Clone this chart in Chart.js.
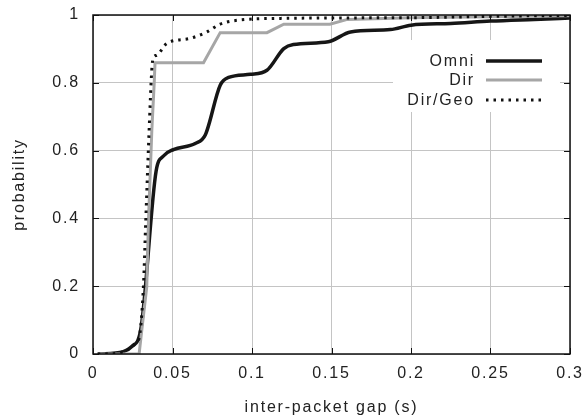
<!DOCTYPE html>
<html lang="en">

<head>
    <meta charset="UTF-8">
    <title>Inter-packet gap CDF</title>
    <script src="https://cdn.jsdelivr.net/npm/chart.js"></script>
    <style>
        body { margin: 0; background: #fff; }
        #box { width: 585px; height: 420px; }
    </style>
</head>

<body>
    <div id="box">
        <canvas id="cdf" width="585" height="420"></canvas>
    </div>
</body>

<script>
    // tick labels
    const xTickLabels = ['0', '0.05', '0.1', '0.15', '0.2', '0.25', '0.3'];
    const yTickLabels = ['0', '0.2', '0.4', '0.6', '0.8', '1'];

    // Omni
    const omniGap = [0.003, 0.019, 0.0244, 0.030, 0.0397, 0.0443, 0.0506, 0.0643, 0.0706, 0.080, 0.0853, 0.099, 0.1094, 0.12, 0.126, 0.148, 0.162, 0.187, 0.2, 0.225, 0.25, 0.2775, 0.3];
    const omniProb = [0, 0.007, 0.022, 0.071, 0.540, 0.584, 0.603, 0.621, 0.646, 0.793, 0.816, 0.825, 0.837, 0.901, 0.913, 0.921, 0.950, 0.957, 0.970, 0.975, 0.982, 0.987, 0.991];

    // Dir
    const dirGap = [0.003, 0.029, 0.0307, 0.0338, 0.0349, 0.037, 0.0385, 0.039, 0.0695, 0.080, 0.1094, 0.12, 0.149, 0.16, 0.2, 0.25, 0.3];
    const dirProb = [0, 0, 0.071, 0.198, 0.395, 0.66, 0.80, 0.859, 0.859, 0.948, 0.948, 0.973, 0.973, 0.987, 0.992, 0.995, 0.998];

    // Dir/Geo
    const geoGap = [0.003, 0.015, 0.0212, 0.0244, 0.0276, 0.0292, 0.0317, 0.0332, 0.0353, 0.037, 0.038, 0.040, 0.0464, 0.061, 0.0716, 0.080, 0.0884, 0.118, 0.2, 0.25, 0.3];
    const geoProb = [0, 0.002, 0.012, 0.022, 0.036, 0.051, 0.198, 0.395, 0.66, 0.84, 0.875, 0.881, 0.916, 0.931, 0.95, 0.973, 0.983, 0.99, 0.992, 0.996, 0.999];

    function pares(xs, ys) {
        return xs.map((x, i) => ({ x: x, y: ys[i] }));
    }

    Chart.defaults.font.family = "'Liberation Sans', Arial, sans-serif";
    Chart.defaults.font.size = 16;
    Chart.defaults.color = '#222';

    // texto um pouco mais largo, como no original
    const espacamento = {
        id: 'espacamento',
        beforeLayout(chart) { chart.ctx.letterSpacing = '1.8px'; },
        beforeDraw(chart) { chart.ctx.letterSpacing = '1.8px'; }
    };

    // moldura preta com marcas de escala para dentro + legenda no canto
    const molduraLegenda = {
        id: 'molduraLegenda',
        afterDatasetsDraw(chart) {
            const ctx = chart.ctx;
            const a = chart.chartArea;
            const sx = chart.scales.x;
            const sy = chart.scales.y;

            ctx.save();
            ctx.strokeStyle = '#111';
            ctx.lineWidth = 1;
            const tam = 6;
            sx.ticks.forEach(t => {
                const px = Math.round(sx.getPixelForValue(t.value)) + 0.5;
                ctx.beginPath();
                ctx.moveTo(px, a.bottom); ctx.lineTo(px, a.bottom - tam);
                ctx.moveTo(px, a.top); ctx.lineTo(px, a.top + tam);
                ctx.stroke();
            });
            sy.ticks.forEach(t => {
                const py = Math.round(sy.getPixelForValue(t.value)) + 0.5;
                ctx.beginPath();
                ctx.moveTo(a.left, py); ctx.lineTo(a.left + tam, py);
                ctx.moveTo(a.right, py); ctx.lineTo(a.right - tam, py);
                ctx.stroke();
            });

            // legenda
            ctx.fillStyle = '#fff';
            ctx.fillRect(393, 40, 167, 72);
            const linhasY = [61, 80, 100];
            chart.data.datasets.forEach((ds, i) => {
                const y = linhasY[i];
                ctx.fillStyle = '#222';
                ctx.font = "16px 'Liberation Sans', Arial, sans-serif";
                ctx.textAlign = 'right';
                ctx.textBaseline = 'middle';
                ctx.fillText(ds.label, 475, y + 1);
                ctx.strokeStyle = ds.borderColor;
                ctx.lineWidth = ds.borderWidth;
                ctx.setLineDash(ds.borderDash || []);
                ctx.beginPath();
                ctx.moveTo(486, y);
                ctx.lineTo(542, y);
                ctx.stroke();
                ctx.setLineDash([]);
            });

            ctx.strokeStyle = '#111';
            ctx.lineWidth = 1.5;
            ctx.strokeRect(a.left, a.top, a.right - a.left, a.bottom - a.top);
            ctx.restore();
        }
    };

    new Chart(document.getElementById('cdf'), {
        type: 'scatter',
        data: {
            datasets: [{
                label: 'Omni',
                data: pares(omniGap, omniProb),
                showLine: true,
                borderColor: '#161616',
                borderWidth: 3.5,
                pointRadius: 0,
                cubicInterpolationMode: 'monotone',
                order: 2
            }, {
                label: 'Dir',
                data: pares(dirGap, dirProb),
                showLine: true,
                borderColor: '#a6a6a6',
                borderWidth: 3,
                pointRadius: 0,
                tension: 0,
                order: 1
            }, {
                label: 'Dir/Geo',
                data: pares(geoGap, geoProb),
                showLine: true,
                borderColor: '#111',
                borderWidth: 3,
                borderDash: [2.5, 5],
                pointRadius: 0,
                cubicInterpolationMode: 'monotone',
                order: 0
            }]
        },
        options: {
            responsive: false,
            animation: false,
            devicePixelRatio: 1,
            layout: { padding: { left: 0, right: 15, top: 15, bottom: 0 } },
            plugins: {
                legend: { display: false },
                tooltip: { enabled: false }
            },
            scales: {
                x: {
                    type: 'linear',
                    min: 0,
                    max: 0.3,
                    afterFit: s => {
                        s.height = 66;
                        s.paddingLeft = 0;
                        s.paddingRight = 0;
                    },
                    border: { display: false },
                    grid: { color: '#c4c4c4', lineWidth: 1, drawTicks: false },
                    ticks: {
                        stepSize: 0.05,
                        padding: 10,
                        maxRotation: 0,
                        callback: (v, i) => xTickLabels[i]
                    },
                    title: {
                        display: true,
                        text: 'inter-packet gap (s)',
                        padding: { top: 5, bottom: 3 }
                    }
                },
                y: {
                    type: 'linear',
                    min: 0,
                    max: 1,
                    afterFit: s => {
                        s.width = 93;
                        s.paddingTop = 0;
                        s.paddingBottom = 0;
                    },
                    border: { display: false },
                    grid: { color: '#c4c4c4', lineWidth: 1, drawTicks: false },
                    ticks: {
                        stepSize: 0.2,
                        padding: 13,
                        callback: (v, i) => yTickLabels[i]
                    },
                    title: {
                        display: true,
                        text: 'probability',
                        padding: { top: 10, bottom: 0 }
                    }
                }
            }
        },
        plugins: [espacamento, molduraLegenda]
    });
</script>

</html>
